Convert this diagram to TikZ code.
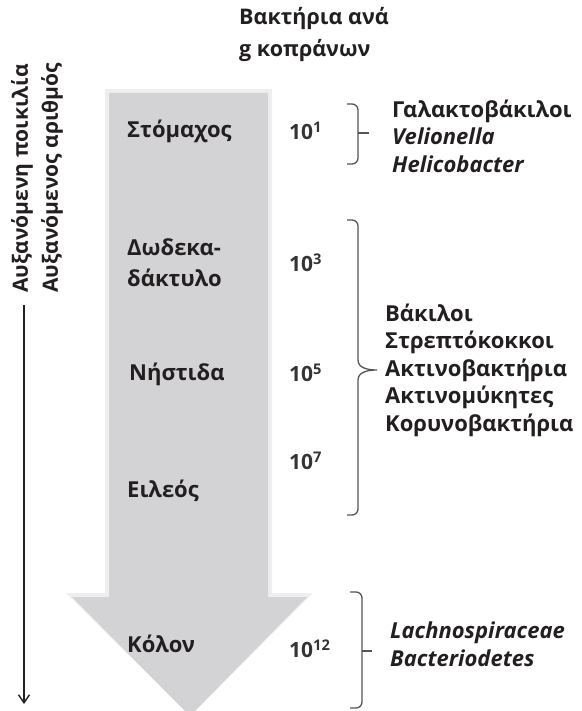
\documentclass[tikz,border=0pt]{standalone}
\usepackage{fontspec}
\setmainfont{Open Sans}
\usetikzlibrary{arrows.meta}

\begin{document}
\begin{tikzpicture}[x=1pt, y=-1pt, >={Straight Barb[length=8pt, width=11pt]}]

\definecolor{shaftcolor}{RGB}{211, 211, 213}
\definecolor{glowcolor}{RGB}{238, 238, 239}
\definecolor{inkcolor}{RGB}{35, 31, 32}
\definecolor{numcolor}{RGB}{52, 52, 52}
\definecolor{bracecolor}{RGB}{85, 85, 85}

\tikzset{
  organ/.style={anchor=west, inner sep=0pt, text=inkcolor, font=\fontsize{22}{31}\selectfont\bfseries, align=left},
  count/.style={anchor=west, inner sep=0pt, text=numcolor, font=\fontsize{21}{24}\selectfont\bfseries},
  taxa/.style={anchor=west, inner sep=0pt, text=inkcolor, font=\fontsize{22}{27.5}\selectfont\bfseries, align=left},
  bracket/.style={bracecolor, line width=1.3pt},
}

\useasboundingbox (0, 0) rectangle (581, 711);

% the big grey arrow
\fill[glowcolor] (105, 89) -- (272, 89) -- (272, 593) -- (313, 593) -- (190, 716)
  -- (66, 593) -- (105, 593) -- cycle;
\fill[shaftcolor] (109, 93) -- (268, 93) -- (268, 597) -- (307, 597) -- (190, 716)
  -- (72, 597) -- (109, 597) -- cycle;

% column title
\node[taxa, font=\fontsize{21.5}{32}\selectfont\bfseries] (title) at (239, 35) {Βακτήρια ανά\\g κοπράνων};

% side arrow with its two labels
\node[taxa, rotate=90, font=\fontsize{21}{24}\selectfont\bfseries] (variety) at (22, 293) {Αυξανόμενη ποικιλία};
\node[taxa, rotate=90, font=\fontsize{21}{24}\selectfont\bfseries] (amount) at (52, 293) {Αυξανόμενος αριθμός};
\coordinate (sidetop) at (24, 305);
\coordinate (sidebot) at (24, 704);
\draw[->, inkcolor, line width=1.4pt] (sidetop) -- (sidebot);

% organs
\node[organ] (stomach) at (127, 131) {Στόμαχος};
\node[organ] (duoden) at (127, 263) {Δωδεκα-\\δάκτυλο};
\node[organ] (jejunum) at (129, 374) {Νήστιδα};
\node[organ] (ileum) at (127, 491) {Ειλεός};
\node[organ] (colon) at (127, 644) {Κόλον};

% bacteria per gram
\node[count] (n1) at (289, 131) {10\textsuperscript{1}};
\node[count] (n3) at (289, 263) {10\textsuperscript{3}};
\node[count] (n5) at (289, 373) {10\textsuperscript{5}};
\node[count] (n7) at (289, 461) {10\textsuperscript{7}};
\node[count] (n12) at (289, 649) {10\textsuperscript{12}};

% brackets
\draw[bracket] (347, 104) -- (352, 104) to[out=0, in=90] (358, 110) -- (358, 158)
  to[out=-90, in=0] (352, 164) -- (347, 164);
\draw[bracket] (358, 133) -- (369, 133);

\draw[bracket] (347, 220) -- (352, 220) to[out=0, in=90] (358, 226) -- (358, 360)
  to[out=-90, in=180] (377, 370) to[out=180, in=90] (358, 380) -- (358, 509)
  to[out=-90, in=0] (352, 515) -- (347, 515);

\draw[bracket] (350, 592) -- (356, 592) to[out=0, in=90] (362, 598) -- (362, 702)
  to[out=-90, in=0] (356, 708) -- (350, 708);
\draw[bracket] (362, 651) -- (372, 651);

% microbes
\node[taxa] (group1) at (392, 136) {Γαλακτοβάκιλοι\\\textit{Velionella}\\\textit{Helicobacter}};
\node[taxa] (group2) at (385, 370) {Βάκιλοι\\Στρεπτόκοκκοι\\Ακτινοβακτήρια\\Ακτινομύκητες\\Κορυνοβακτήρια};
\node[taxa] (group3) at (390, 644) {\textit{Lachnospiraceae}\\\textit{Bacteriodetes}};

\end{tikzpicture}
\end{document}
